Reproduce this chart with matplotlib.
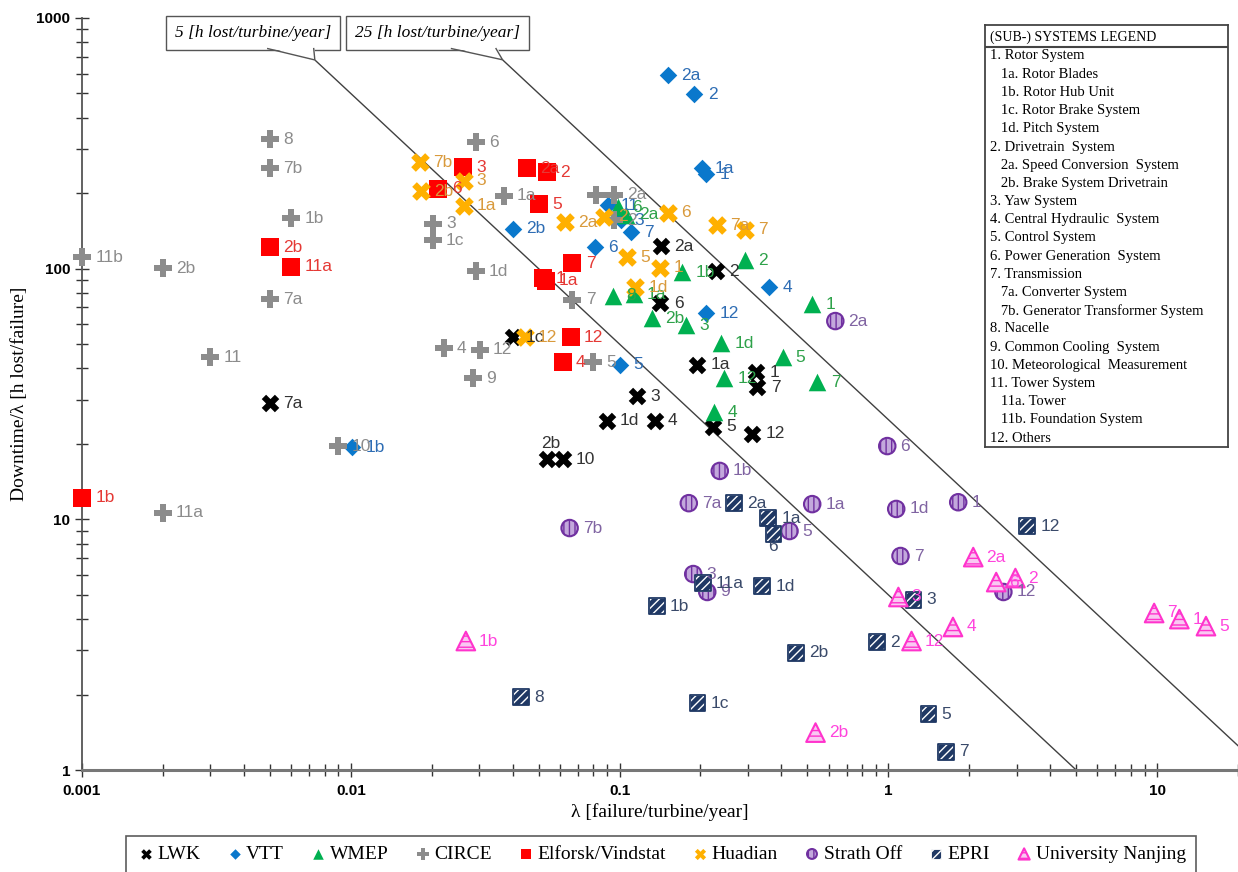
import matplotlib
matplotlib.use("Agg")
import numpy as np
import matplotlib.pyplot as plt
from matplotlib.ticker import FuncFormatter, NullFormatter

# ---- data (lambda [failure/turbine/year], downtime/lambda [h/failure]) ----
lwk_lab = ['7a', '1c', '2b', '10', '1d', '3', '4', '2a', '6', '2', '1a', '5', '1', '7', '12']
lwk_x = [0.005, 0.040, 0.0535, 0.0614, 0.0895, 0.116, 0.135, 0.143, 0.142, 0.228, 0.195, 0.222, 0.323, 0.326, 0.312]
lwk_y = [29.1, 53.3, 17.4, 17.4, 24.7, 31.0, 24.7, 123, 72.9, 97.8, 41.3, 23.4, 38.7, 33.7, 21.9]

vtt_lab = ['2a', '2', '1a', '1', '2b', '6', '11', '3', '7', '4', '12', '5', '1b']
vtt_x = [0.151, 0.190, 0.202, 0.210, 0.0400, 0.0807, 0.0902, 0.1016, 0.110, 0.361, 0.210, 0.1008, 0.0101]
vtt_y = [592, 497, 252, 238, 144, 122, 179, 156, 140, 84.5, 66.5, 41.3, 19.4]

wmep_lab = ['6', '2a', '8', '1a', '1b', '2', '1', '2b', '3', '1d', '5', '12', '7', '4']
wmep_x = [0.0991, 0.106, 0.0942, 0.113, 0.171, 0.292, 0.521, 0.1315, 0.177, 0.239, 0.404, 0.245, 0.545, 0.225]
wmep_y = [176, 164, 77.8, 79.2, 96.9, 108, 72.2, 63.5, 59.6, 50.5, 44.4, 36.6, 35.3, 26.8]

circe_lab = ['8', '7b', '1b', '11b', '2b', '7a', '11', '10', '11a', '6', '1a', '3', '1c', '1d',
             '7', '4', '12', '9', '5', '1', '2a', '2']
circe_x = [0.005, 0.005, 0.006, 0.001, 0.002, 0.005, 0.003, 0.009, 0.002, 0.0292, 0.0371, 0.0202, 0.0202,
           0.0292, 0.0668, 0.0222, 0.0302, 0.0284, 0.080, 0.082, 0.0957, 0.0957]
circe_y = [329, 252, 159, 111, 100.5, 75.6, 44.4, 19.6, 10.6, 320, 195, 151, 130, 97.8,
           75.0, 48.2, 47.4, 36.6, 42.4, 197, 197, 156]

elf_lab = ['3', '2a', '2', '6', '5', '7', '1', '1a', '12', '4', '2b', '11a', '1b']
elf_x = [0.0261, 0.0451, 0.0539, 0.0212, 0.050, 0.0668, 0.0518, 0.0531, 0.0658, 0.0614, 0.005, 0.006, 0.001]
elf_y = [254, 252, 243, 208, 181, 105, 91.7, 89.3, 53.3, 42.4, 122, 102, 12.2]

hua_lab = ['7b', '3', '2b', '1a', '2a', '6', '7a', '7', '5', '1', '1d', '2', '12']
hua_x = [0.01805, 0.0263, 0.0182, 0.0263, 0.0625, 0.151, 0.230, 0.292, 0.107, 0.142, 0.1146, 0.0879, 0.0444]
hua_y = [266, 224, 204, 178, 153, 167, 149, 143, 111, 101, 84.5, 161, 53.3]

str_lab = ['2a', '1b', '7a', '1a', '7b', '5', '3', '9', '6', '1d', '1', '7', '12']
str_x = [0.635, 0.236, 0.181, 0.521, 0.0652, 0.429, 0.188, 0.212, 0.991, 1.07, 1.82, 1.11, 2.68]
str_y = [61.8, 15.6, 11.6, 11.5, 9.23, 8.98, 6.05, 5.13, 19.6, 11.0, 11.7, 7.14, 5.13]

epri_lab = ['2a', '1a', '6', '11a', '1d', '1b', '2b', '1c', '8', '12', '3', '2', '5', '7']
epri_x = [0.266, 0.358, 0.374, 0.204, 0.340, 0.1374, 0.455, 0.195, 0.0429, 3.29, 1.24, 0.910, 1.41, 1.64]
epri_y = [11.6, 10.1, 8.74, 5.57, 5.42, 4.51, 2.93, 1.85, 1.95, 9.40, 4.77, 3.24, 1.67, 1.18]

nj_lab = ['2a', '2', '6', '3', '12', '4', '7', '1', '5', '1b', '2b']
nj_x = [2.07, 2.97, 2.52, 1.09, 1.22, 1.74, 9.75, 12.1, 15.2, 0.0268, 0.536]
nj_y = [7.07, 5.83, 5.62, 4.90, 3.27, 3.72, 4.23, 4.00, 3.75, 3.27, 1.41]

iso_hours = [5, 25]

subsystems = ['1. Rotor System', '   1a. Rotor Blades', '   1b. Rotor Hub Unit', '   1c. Rotor Brake System',
              '   1d. Pitch System', '2. Drivetrain  System', '   2a. Speed Conversion  System',
              '   2b. Brake System Drivetrain', '3. Yaw System', '4. Central Hydraulic  System',
              '5. Control System', '6. Power Generation  System', '7. Transmission',
              '   7a. Converter System', '   7b. Generator Transformer System', '8. Nacelle',
              '9. Common Cooling  System', '10. Meteorological  Measurement', '11. Tower System',
              '   11a. Tower', '   11b. Foundation System', '12. Others']

SERIF = 'Liberation Serif'
SANS = 'Liberation Sans'

fig = plt.figure(figsize=(12.38, 8.72), dpi=100)
ax = fig.add_axes([82 / 1238, 1 - 770 / 872, (1238 - 82) / 1238, (770 - 18) / 872])
ax.set_xscale('log')
ax.set_yscale('log')
ax.set_xlim(0.001, 20)
ax.set_ylim(1, 1000)

for s in ['top', 'right']:
    ax.spines[s].set_visible(False)
ax.spines['left'].set_color('#555555')
ax.spines['left'].set_linewidth(1.3)
ax.spines['bottom'].set_color('#777777')
ax.spines['bottom'].set_linewidth(2.2)

ax.tick_params(which='both', direction='inout', color='#333333')
ax.tick_params(which='major', length=10, width=1)
ax.tick_params(which='minor', length=8, width=1)
fmt = FuncFormatter(lambda v, _: f'{v:g}')
ax.xaxis.set_major_formatter(fmt)
ax.yaxis.set_major_formatter(fmt)
ax.xaxis.set_minor_formatter(NullFormatter())
ax.yaxis.set_minor_formatter(NullFormatter())
for t in ax.get_xticklabels() + ax.get_yticklabels():
    t.set_fontfamily(SANS)
    t.set_fontweight('bold')
    t.set_fontsize(11)
ax.tick_params(axis='x', pad=5)

ax.set_xlabel('λ [failure/turbine/year]', family=SERIF, fontsize=14, labelpad=4)
ax.set_ylabel('Downtime/λ [h lost/failure]', family=SERIF, fontsize=14, labelpad=6)

# constant downtime per turbine per year
xs = np.logspace(-3, np.log10(20), 200)
for h in iso_hours:
    ax.plot(xs, h / xs, color='#404040', lw=1, zorder=1)

# callout boxes: (box centre x, tail base left x, tail base right x, tail tip x)
callouts = [(0.00433, 0.00491, 0.00728, 0.00735), (0.0210, 0.0237, 0.0347, 0.0367)]
for h, (bx, t1, t2, tip) in zip(iso_hours, callouts):
    ax.text(bx, 870, f'{h} [h lost/turbine/year]', ha='center', va='center', family=SERIF,
            style='italic', fontsize=12.5, zorder=6,
            bbox=dict(boxstyle='square,pad=0.5', fc='white', ec='#555555', lw=1))
    ax.fill([t1, tip, t2], [770, h / tip, 770], color='white', zorder=7, clip_on=False)
    ax.plot([t1, tip, t2], [755, h / tip, 755], color='#555555', lw=1, zorder=8, clip_on=False)

series = [
    ('LWK', lwk_x, lwk_y, lwk_lab, dict(marker='X', s=160, c='black', linewidths=0), '#333333'),
    ('VTT', vtt_x, vtt_y, vtt_lab, dict(marker='D', s=80, c='#0A78CC', linewidths=0), '#2E6DB4'),
    ('WMEP', wmep_x, wmep_y, wmep_lab, dict(marker='^', s=160, c='#00B050', linewidths=0), '#2EA24A'),
    ('CIRCE', circe_x, circe_y, circe_lab, dict(marker='P', s=180, c='#8C8C8C', linewidths=0), '#8C8C8C'),
    ('Elforsk/Vindstat', elf_x, elf_y, elf_lab, dict(marker='s', s=160, c='#FF0000', linewidths=0), '#E53935'),
    ('Huadian', hua_x, hua_y, hua_lab, dict(marker='X', s=180, c='#FFB000', linewidths=0), '#D99A3C'),
    ('Strath Off', str_x, str_y, str_lab,
     dict(marker='o', s=140, facecolors='#C3A8DC', edgecolors='#7030A0', linewidths=1.5, hatch='|||'), '#8064A2'),
    ('EPRI', epri_x, epri_y, epri_lab,
     dict(marker='s', s=130, facecolors='#1F3864', edgecolors='white', linewidths=0.6, hatch='////'), '#3A4A6A'),
    ('University Nanjing', nj_x, nj_y, nj_lab,
     dict(marker='^', s=180, facecolors='#F9C8F2', edgecolors='#FF33CC', linewidths=1.5, hatch='---'), '#FF44DD'),
]

label_shift = {('LWK', '2b'): (-4, 11), ('EPRI', '6'): (-4, -9)}

handles = []
for name, x, y, labs, style, lc in series:
    h = ax.scatter(x, y, zorder=3, clip_on=False, **style)
    if name == 'EPRI':
        ax.scatter(x, y, marker='s', s=130, facecolors='none', edgecolors='#1F3864',
                   linewidths=1.3, zorder=3, clip_on=False)
    handles.append(h)
    for xi, yi, lab in zip(x, y, labs):
        off = label_shift.get((name, lab), (9.5, 0))
        ax.annotate(lab, (xi, yi), xytext=off, textcoords='offset points', va='center', ha='left',
                    fontsize=12.5, color=lc, family=SANS, zorder=4, annotation_clip=False)

# sub-systems legend table
lax = fig.add_axes([985 / 1238, 1 - 447 / 872, 243 / 1238, 422 / 872])
lax.set_xticks([])
lax.set_yticks([])
for s in lax.spines.values():
    s.set_color('#444444')
    s.set_linewidth(1.3)
lax.set_xlim(0, 243)
lax.set_ylim(447, 25)
lax.text(5, 37, '(SUB-) SYSTEMS LEGEND', family=SERIF, fontsize=10, va='center', ha='left')
lax.plot([0, 243], [47, 47], color='#444444', lw=1.5)
for i, item in enumerate(subsystems):
    lax.text(5, 56 + i * 18.2, item, family=SERIF, fontsize=10.5, va='center', ha='left')

leg = fig.legend(handles, [s[0] for s in series], loc='upper center', bbox_to_anchor=(661 / 1238, 1 - 826 / 872),
                 ncol=9, frameon=True, fancybox=False, edgecolor='#333333', prop=dict(family=SERIF, size=14),
                 handletextpad=0.1, columnspacing=1.25, markerscale=0.6, borderpad=0.5, handlelength=1.0)
leg.get_frame().set_linewidth(1.2)

fig.savefig('out.png', dpi=100)
